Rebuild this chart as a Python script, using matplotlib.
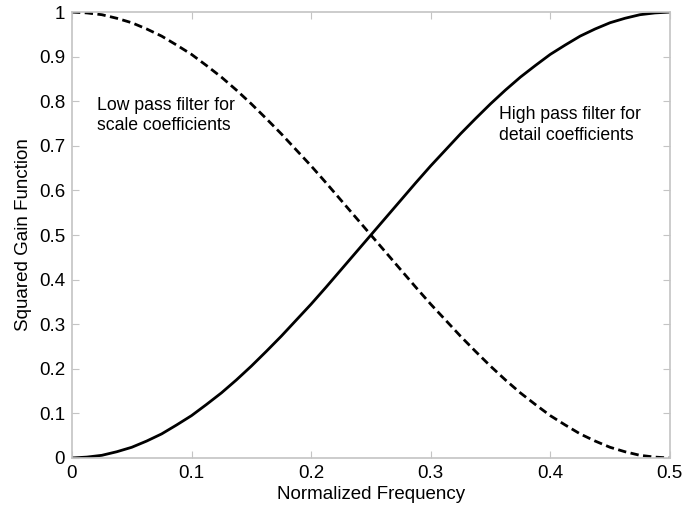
import matplotlib
matplotlib.use("Agg")
from matplotlib import pyplot as plt

# values
freq = [0.0, 0.0125, 0.025, 0.0375, 0.05, 0.0625, 0.075, 0.0875, 0.1, 0.1125,
        0.125, 0.1375, 0.15, 0.1625, 0.175, 0.1875, 0.2, 0.2125, 0.225, 0.2375,
        0.25, 0.2625, 0.275, 0.2875, 0.3, 0.3125, 0.325, 0.3375, 0.35, 0.3625,
        0.375, 0.3875, 0.4, 0.4125, 0.425, 0.4375, 0.45, 0.4625, 0.475, 0.4875, 0.5]
low_pass = [1.0, 0.998, 0.994, 0.986, 0.976, 0.962, 0.946, 0.926, 0.905, 0.880,
            0.854, 0.825, 0.794, 0.761, 0.727, 0.691, 0.655, 0.617, 0.578, 0.539,
            0.5, 0.461, 0.422, 0.383, 0.345, 0.309, 0.273, 0.239, 0.206, 0.175,
            0.146, 0.120, 0.095, 0.074, 0.054, 0.038, 0.024, 0.014, 0.006, 0.002, 0.0]
high_pass = [0.0, 0.002, 0.006, 0.014, 0.024, 0.038, 0.054, 0.074, 0.095, 0.120,
             0.146, 0.175, 0.206, 0.239, 0.273, 0.309, 0.345, 0.383, 0.422, 0.461,
             0.5, 0.539, 0.578, 0.617, 0.655, 0.691, 0.727, 0.761, 0.794, 0.825,
             0.854, 0.880, 0.905, 0.926, 0.946, 0.962, 0.976, 0.986, 0.994, 0.998, 1.0]

xticks = [0, 0.1, 0.2, 0.3, 0.4, 0.5]
xtick_labels = ["0", "0.1", "0.2", "0.3", "0.4", "0.5"]
yticks = [0, 0.1, 0.2, 0.3, 0.4, 0.5, 0.6, 0.7, 0.8, 0.9, 1]
ytick_labels = ["0", "0.1", "0.2", "0.3", "0.4", "0.5", "0.6", "0.7", "0.8", "0.9", "1"]

plt.rcParams["font.family"] = ["Liberation Sans", "DejaVu Sans"]

fig = plt.figure(figsize=(6.96, 5.12), dpi=100)
ax = fig.add_axes([0.1034, 0.1055, 0.859, 0.871])

ax.plot(freq, low_pass, color="black", lw=2.0, dashes=(3, 1.6))
ax.plot(freq, high_pass, color="black", lw=2.0)

ax.set_xlim(0, 0.5)
ax.set_ylim(0, 1)
ax.set_xticks(xticks)
ax.set_xticklabels(xtick_labels)
ax.set_yticks(yticks)
ax.set_yticklabels(ytick_labels)

for s in ax.spines.values():
    s.set_color("#c4c4c4")
    s.set_linewidth(1.2)
ax.tick_params(direction="in", length=5, color="#c4c4c4", labelsize=13.5,
               top=True, right=True, pad=5)

ax.set_xlabel("Normalized Frequency", fontsize=13.5, labelpad=3)
ax.set_ylabel("Squared Gain Function", fontsize=13.5, labelpad=5)

ax.text(0.021, 0.768, "Low pass filter for\nscale coefficients",
        fontsize=12.7, va="center", ha="left", linespacing=1.3)
ax.text(0.357, 0.746, "High pass filter for\ndetail coefficients",
        fontsize=12.7, va="center", ha="left", linespacing=1.3)

fig.savefig("out.png", dpi=100)
